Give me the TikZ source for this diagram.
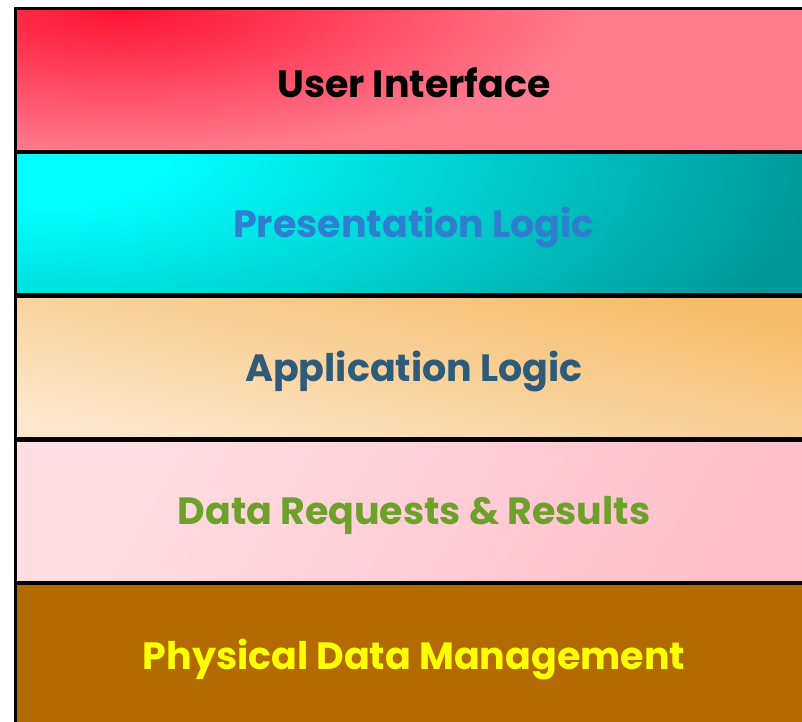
\documentclass[tikz,border=0pt]{standalone}
\usepackage{fontspec}
\setmainfont{Poppins}
\definecolor{uiRed}{HTML}{FF1232}
\definecolor{uiPink}{HTML}{FF7B8E}
\definecolor{plCyan}{HTML}{00FFFF}
\definecolor{plTeal}{HTML}{009797}
\definecolor{alOrange}{HTML}{F5BB66}
\definecolor{alCream}{HTML}{FCE7CC}
\definecolor{drLight}{HTML}{FFDEE3}
\definecolor{drPink}{HTML}{FFC0CB}
\definecolor{pdBrown}{HTML}{B36A00}
\definecolor{txBlue}{HTML}{2E7FCF}
\definecolor{txSlate}{HTML}{2F5A78}
\definecolor{txGreen}{HTML}{6EA12C}
\definecolor{txYellow}{HTML}{FFFF00}
% soft glows: the colour change sits in the inner part of a large ellipse
\pgfdeclareradialshading{uiGlow}{\pgfpoint{0bp}{0bp}}%
  {color(0bp)=(uiRed); color(13bp)=(uiPink); color(50bp)=(uiPink)}
\pgfdeclareradialshading{plGlow}{\pgfpoint{0bp}{0bp}}%
  {color(0bp)=(plCyan); color(4bp)=(plCyan); color(25bp)=(plTeal); color(50bp)=(plTeal)}
\begin{document}
\begin{tikzpicture}[x=1pt,y=-1pt,
  outline/.style={draw=black, line width=3pt},
  divider/.style={draw=black, line width=4.5pt},
  lbl/.style={font=\bfseries\fontsize{38}{46}\selectfont, anchor=center, inner sep=0pt}]
\useasboundingbox (0,0) rectangle (802,721);
\clip (0,0) rectangle (802,721);

% layer 1: user interface
\begin{scope}
  \clip (15,8) rectangle (813,151.75);
  \fill[uiPink] (15,8) rectangle (813,151.75);
  \shade[shading=uiGlow] (120,8) ellipse [x radius=900, y radius=280];
\end{scope}
% layer 2: presentation logic
\begin{scope}
  \clip (15,151.75) rectangle (813,295.5);
  \fill[plTeal] (15,151.75) rectangle (813,295.5);
  \shade[shading=plGlow] (40,152) ellipse [x radius=790, y radius=330];
\end{scope}
% layer 3: application logic
\shade[top color=alOrange, bottom color=alCream, shading angle=-12]
  (15,295.5) rectangle (813,439.25);
% layer 4: data requests
\shade[top color=drLight, bottom color=drPink, shading angle=60]
  (15,439.25) rectangle (813,583);
% layer 5: physical data
\fill[pdBrown] (15,583) rectangle (813,726.75);

% borders
\draw[outline] (15,8) rectangle (813,726.75);
\foreach \yy in {151.75,295.5,439.25,583}
  \draw[divider] (15,\yy) -- (813,\yy);

% labels
\node[lbl, text=black]    (ui) at (414,83)    {User Interface};
\node[lbl, text=txBlue]   (pl) at (414,227.5) {Presentation Logic};
\node[lbl, text=txSlate]  (al) at (414,371)   {Application Logic};
\node[lbl, text=txGreen]  (dr) at (414,515.5) {Data Requests \& Results};
\node[lbl, text=txYellow] (pd) at (414,659.5) {Physical Data Management};
\end{tikzpicture}
\end{document}
